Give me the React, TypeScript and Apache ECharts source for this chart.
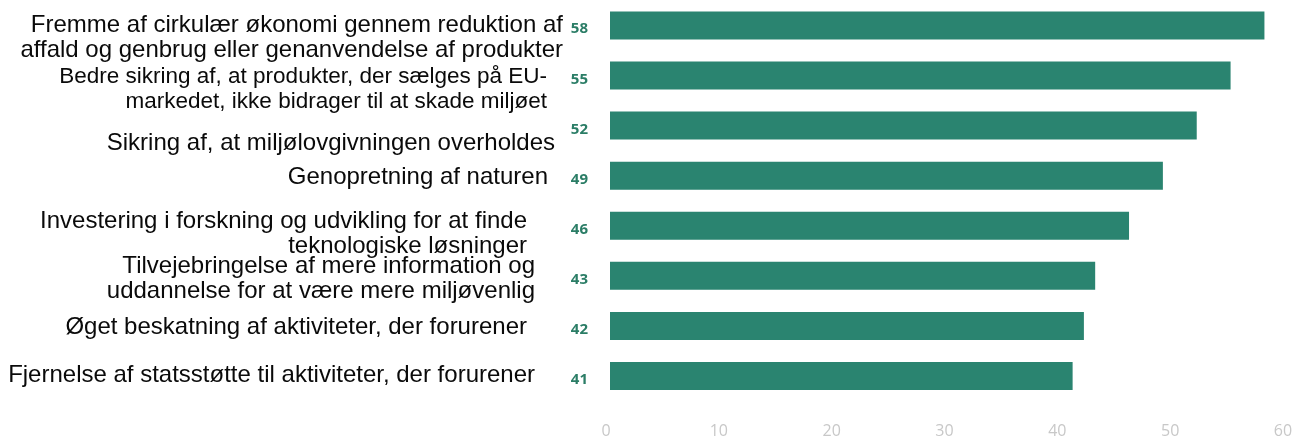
import React, { useEffect, useRef } from "react";
import * as echarts from "echarts";

const categories: string[] = [
  "Fremme af cirkulær økonomi gennem reduktion af\naffald og genbrug eller genanvendelse af produkter",
  "Bedre sikring af, at produkter, der sælges på EU-\nmarkedet, ikke bidrager til at skade miljøet",
  "Sikring af, at miljølovgivningen overholdes",
  "Genopretning af naturen",
  "Investering i forskning og udvikling for at finde\nteknologiske løsninger",
  "Tilvejebringelse af mere information og\nuddannelse for at være mere miljøvenlig",
  "Øget beskatning af aktiviteter, der forurener",
  "Fjernelse af statsstøtte til aktiviteter, der forurener",
];

const values: number[] = [58, 55, 52, 49, 46, 43, 42, 41];

const xTicks: number[] = [0, 10, 20, 30, 40, 50, 60];

// label style nudges (as in the source image, labels are not perfectly aligned)
const labelShiftY: number[] = [11, 12, 16, 0, 6, 1, 0, -2];
const labelPadRight: number[] = [0, 16, 8, 15, 36, 28, 36, 28];
const labelFontSize: number[] = [24, 22.5, 24, 24, 24, 24, 24, 24];

const BAR = "#2a8470";
const NUM = "#2b7d66";
const FONT = "'Liberation Sans', Arial, sans-serif";

export default function App() {
  const ref = useRef<HTMLDivElement>(null);
  useEffect(() => {
    if (!ref.current) return;
    const chart = echarts.init(ref.current, null, { renderer: "svg" });

    const rich: Record<string, any> = {};
    categories.forEach((_, i) => {
      rich["t" + i] = {
        fontSize: labelFontSize[i],
        lineHeight: 25,
        fontFamily: FONT,
        color: "#0a0a0a",
        padding: [0, labelPadRight[i], 0, 0],
      };
      rich["g" + i] = {
        fontSize: 1,
        lineHeight: Math.max(1, Math.abs(labelShiftY[i]) * 2),
        padding: [0, 0, 0, 0],
      };
    });

    chart.setOption({
      animation: false,
      grid: { left: 610, right: 14, top: 0, bottom: 40, containLabel: false },
      xAxis: {
        type: "value",
        min: xTicks[0],
        max: xTicks[xTicks.length - 1],
        interval: 10,
        axisLine: { show: false },
        axisTick: { show: false },
        splitLine: { show: false },
        axisLabel: {
          color: "#c8c8c8",
          fontSize: 16,
          fontFamily: "'Open Sans', sans-serif",
          margin: 21,
          padding: [0, 8, 0, 0],
        },
      },
      yAxis: {
        type: "category",
        data: categories,
        inverse: true,
        axisLine: { show: false },
        axisTick: { show: false },
        splitLine: { show: false },
        axisLabel: {
          interval: 0,
          margin: 47,
          align: "right",
          rich,
          formatter: (value: string, index: number) => {
            const lines = value.split("\n").map((l) => `{t${index}|${l}}`);
            const s = labelShiftY[index];
            if (s > 0) lines.unshift(`{g${index}|\u00a0}`);
            else if (s < 0) lines.push(`{g${index}|\u00a0}`);
            return lines.join("\n");
          },
        },
      },
      series: [
        {
          type: "bar",
          data: values,
          barWidth: 28,
          itemStyle: { color: BAR },
          label: {
            show: true,
            position: "left",
            distance: 22,
            offset: [0, 2],
            color: NUM,
            fontWeight: "bold",
            fontSize: 15,
            fontFamily: "'Open Sans', sans-serif",
            formatter: "{c}",
          },
        },
      ],
    });
    return () => chart.dispose();
  }, []);
  return (
    <div
      ref={ref}
      style={{ position: "fixed", left: 0, top: 0, width: 1301, height: 441 }}
    />
  );
}
